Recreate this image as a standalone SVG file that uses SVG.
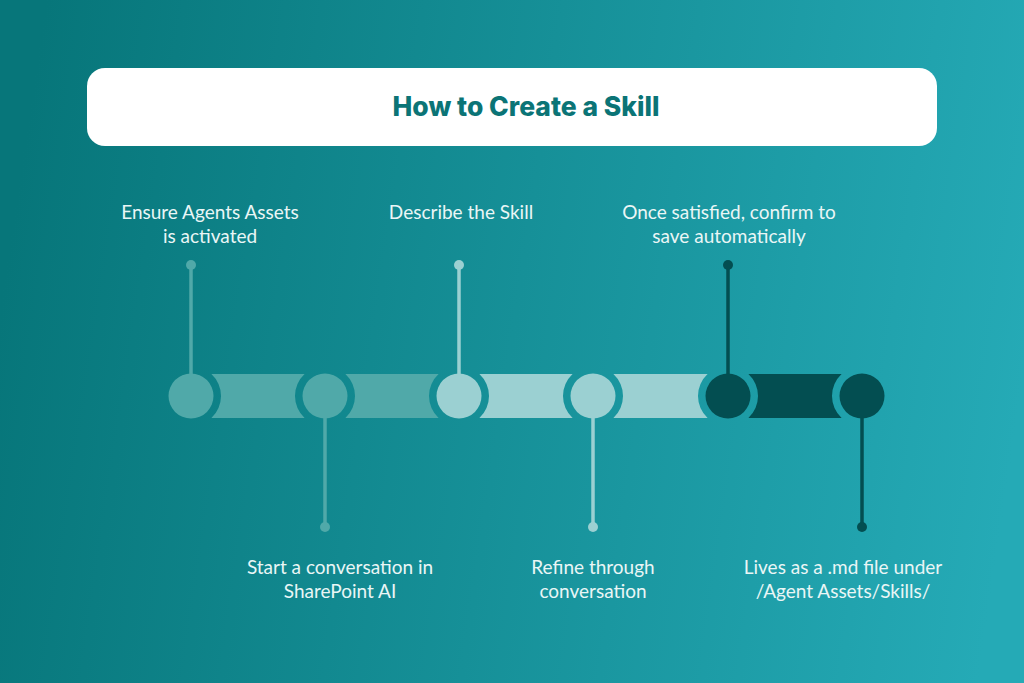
<svg xmlns="http://www.w3.org/2000/svg" width="1024" height="683" viewBox="0 0 1024 683">
<defs>
<linearGradient id="bg" x1="0" y1="0.45" x2="1" y2="0.55">
<stop offset="0" stop-color="#07767A"/>
<stop offset="1" stop-color="#25AAB6"/>
</linearGradient>
<style>
.lbl{font-family:Lato,"Open Sans",sans-serif;font-size:19px;fill:#EAF6F6;text-anchor:middle}
.title{font-family:Inter,"Open Sans",sans-serif;font-weight:800;font-size:27px;fill:#0B7476;text-anchor:middle}
.c1{fill:#50A9A9}.s1{stroke:#50A9A9}
.c2{fill:#9BD0D2}.s2{stroke:#9BD0D2}
.c3{fill:#034E51}.s3{stroke:#034E51}
.stem{stroke-width:3.5;fill:none}
</style>
</defs>
<rect width="1024" height="683" fill="url(#bg)"/>
<g id="header">
<rect x="87" y="68" width="850" height="78" rx="18" fill="#FFFFFF"/>
<text class="title" x="526" y="116" textLength="267" lengthAdjust="spacingAndGlyphs">How to Create a Skill</text>
</g>
<g id="connectors">
<path class="c1" d="M211.4,374 L304.6,374 A30,30 0 0 0 304.6,418 L211.4,418 A30,30 0 0 0 211.4,374 Z"/>
<path class="c1" d="M345.4,374 L438.6,374 A30,30 0 0 0 438.6,418 L345.4,418 A30,30 0 0 0 345.4,374 Z"/>
<path class="c2" d="M479.4,374 L572.6,374 A30,30 0 0 0 572.6,418 L479.4,418 A30,30 0 0 0 479.4,374 Z"/>
<path class="c2" d="M613.4,374 L707.6,374 A30,30 0 0 0 707.6,418 L613.4,418 A30,30 0 0 0 613.4,374 Z"/>
<path class="c3" d="M748.4,374 L841.6,374 A30,30 0 0 0 841.6,418 L748.4,418 A30,30 0 0 0 748.4,374 Z"/>
<line class="stem s1" x1="191" y1="265" x2="191" y2="380"/>
<line class="stem s1" x1="325" y1="410" x2="325" y2="527"/>
<line class="stem s2" x1="459" y1="265" x2="459" y2="380"/>
<line class="stem s2" x1="593" y1="410" x2="593" y2="527"/>
<line class="stem s3" x1="728" y1="265" x2="728" y2="380"/>
<line class="stem s3" x1="862" y1="410" x2="862" y2="527"/>
</g>
<g id="step1">
<circle class="c1" cx="191" cy="265" r="5"/>
<circle class="c1" cx="191" cy="396" r="22.5"/>
<text class="lbl" x="210" y="219">Ensure Agents Assets</text>
<text class="lbl" x="210" y="243">is activated</text>
</g>
<g id="step2">
<circle class="c1" cx="325" cy="527" r="5"/>
<circle class="c1" cx="325" cy="396" r="22.5"/>
<text class="lbl" x="340" y="574">Start a conversation in</text>
<text class="lbl" x="340" y="598">SharePoint AI</text>
</g>
<g id="step3">
<circle class="c2" cx="459" cy="265" r="5"/>
<circle class="c2" cx="459" cy="396" r="22.5"/>
<text class="lbl" x="461" y="219">Describe the Skill</text>
</g>
<g id="step4">
<circle class="c2" cx="593" cy="527" r="5"/>
<circle class="c2" cx="593" cy="396" r="22.5"/>
<text class="lbl" x="593" y="574">Refine through</text>
<text class="lbl" x="593" y="598">conversation</text>
</g>
<g id="step5">
<circle class="c3" cx="728" cy="265" r="5"/>
<circle class="c3" cx="728" cy="396" r="22.5"/>
<text class="lbl" x="729" y="219">Once satisfied, confirm to</text>
<text class="lbl" x="729" y="243">save automatically</text>
</g>
<g id="step6">
<circle class="c3" cx="862" cy="527" r="5"/>
<circle class="c3" cx="862" cy="396" r="22.5"/>
<text class="lbl" x="843" y="574">Lives as a .md file under</text>
<text class="lbl" x="843" y="598">/Agent Assets/Skills/</text>
</g>
</svg>
